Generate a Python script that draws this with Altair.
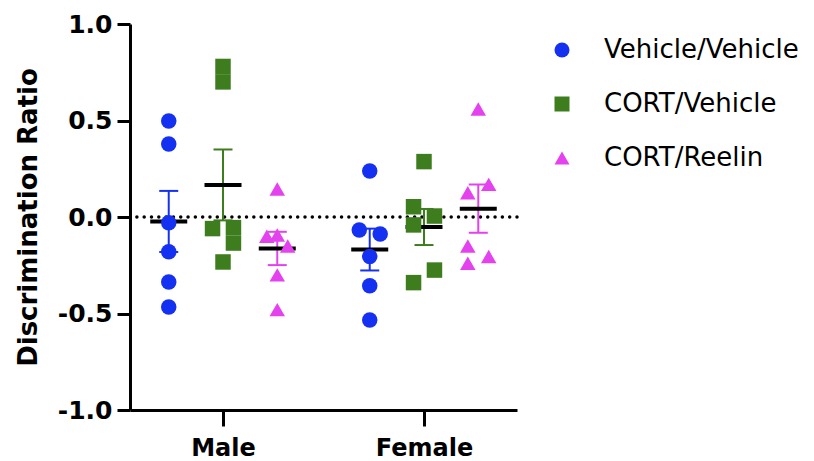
import altair as alt
import pandas as pd

groups = ["Male", "Female"]
series = ["Vehicle/Vehicle", "CORT/Vehicle", "CORT/Reelin"]
colors = ["#1431f2", "#3e7d1e", "#e542ef"]
shapes = ["circle", "square", "triangle-up"]

# values (6 animals per group)
male_vv = [0.497, 0.378, -0.03, -0.18, -0.337, -0.466]
male_cv = [0.78, 0.70, -0.06, -0.055, -0.135, -0.233]
male_cr = [0.145, -0.10, -0.093, -0.15, -0.30, -0.48]
female_vv = [0.238, -0.067, -0.088, -0.205, -0.356, -0.534]
female_cv = [0.287, 0.053, 0.005, -0.041, -0.275, -0.34]
female_cr = [0.56, 0.169, 0.126, -0.15, -0.205, -0.24]

# scatter lane of each dot within its column (-1 left, 0 centre, 1 right)
male_vv_lane = [0, 0, 0, 0, 0, 0]
male_cv_lane = [0, 0, -1, 1, 1, 0]
male_cr_lane = [0, -1, 0, 1, 0, 0]
female_vv_lane = [0, -1, 1, 0, 0, 0]
female_cv_lane = [0, -1, 1, -1, 1, -1]
female_cr_lane = [0, 1, -1, -1, 1, -1]

values = {
    ("Male", "Vehicle/Vehicle"): (male_vv, male_vv_lane),
    ("Male", "CORT/Vehicle"): (male_cv, male_cv_lane),
    ("Male", "CORT/Reelin"): (male_cr, male_cr_lane),
    ("Female", "Vehicle/Vehicle"): (female_vv, female_vv_lane),
    ("Female", "CORT/Vehicle"): (female_cv, female_cv_lane),
    ("Female", "CORT/Reelin"): (female_cr, female_cr_lane),
}

rows = []
for gi, g in enumerate(groups):
    for si, s in enumerate(series):
        vals, lanes = values[(g, s)]
        for v, ln in zip(vals, lanes):
            rows.append({"group": g, "gi": gi, "series": s, "si": si - 1, "lane": ln, "value": v})
df = pd.DataFrame(rows)

xscale = alt.Scale(domain=[-0.4627, 1.4627], nice=False, zero=False)
yscale = alt.Scale(domain=[-1, 1], nice=False, zero=False)
cscale = alt.Scale(domain=series, range=colors)
sscale = alt.Scale(domain=series, range=shapes)

x_axis = alt.Axis(
    title=None,
    values=[0, 1],
    labelExpr="datum.value == 0 ? 'Male' : 'Female'",
    tickSize=16,
    labelFontSize=24,
    labelPadding=10,
)
y_axis = alt.Axis(
    title="Discrimination Ratio",
    values=[-1, -0.5, 0, 0.5, 1],
    labelExpr="replace(format(datum.value, '.1f'), '\u2212', '-')",
    tickSize=13,
    labelFontSize=25,
    labelPadding=5,
    titleFontSize=26,
    titleFont="DejaVu Sans",
    titleFontWeight="bold",
    titleColor="black",
    titlePadding=16,
)
legend = alt.Legend(title=None)


def X(f):
    return alt.X(f, scale=xscale, axis=x_axis, title=None)


def Y(f):
    return alt.Y(f, scale=yscale, axis=y_axis, title="Discrimination Ratio")


color = alt.Color("series:N", scale=cscale, legend=legend, title=None)

base = alt.Chart(df).transform_calculate(
    xc="datum.gi + datum.si * 0.27",
    xp="datum.gi + datum.si * 0.27 + datum.lane * 0.052",
)

stats = base.transform_aggregate(
    mean="mean(value)", sd="stdev(value)", n="count()", groupby=["group", "series", "xc"]
).transform_calculate(
    lo="datum.mean - datum.sd / sqrt(datum.n)",
    hi="datum.mean + datum.sd / sqrt(datum.n)",
)

zero = alt.Chart(pd.DataFrame({"z": [0]})).mark_rule(
    color="black", strokeWidth=3.5, strokeDash=[0.01, 7.3], strokeCap="round"
).encode(y=Y("z:Q"))

err = stats.mark_rule(strokeWidth=2, opacity=1).encode(
    x=X("xc:Q"), y=Y("lo:Q"), y2="hi:Q", color=color
)
cap_hi = stats.mark_tick(orient="horizontal", size=19, thickness=2, opacity=1).encode(
    x=X("xc:Q"), y=Y("hi:Q"), color=color
)
cap_lo = stats.mark_tick(orient="horizontal", size=19, thickness=2, opacity=1).encode(
    x=X("xc:Q"), y=Y("lo:Q"), color=color
)
means = stats.mark_tick(orient="horizontal", size=37, thickness=4, color="black", opacity=1).encode(
    x=X("xc:Q"), y=Y("mean:Q")
)

points = base.mark_point(filled=True, size=240, opacity=1, strokeWidth=0).encode(
    x=X("xp:Q"),
    y=Y("value:Q"),
    color=color,
    shape=alt.Shape("series:N", scale=sscale, legend=legend, title=None),
)

chart = alt.layer(zero, err, cap_hi, cap_lo, means, points).properties(
    width=387,
    height=386,
    autosize=alt.AutoSizeParams(type="none"),
    padding={"left": 130, "top": 24, "right": 297, "bottom": 51},
).configure_view(stroke=None).configure_axis(
    domainColor="black",
    domainWidth=3,
    tickColor="black",
    tickWidth=3,
    labelFont="DejaVu Sans",
    labelFontWeight="bold",
    labelColor="black",
    grid=False,
).configure_legend(
    orient="none",
    legendX=419,
    legendY=13,
    padding=0,
    labelFont="DejaVu Sans",
    labelFontSize=26,
    labelColor="black",
    labelLimit=0,
    symbolSize=225,
    symbolStrokeWidth=0,
    symbolOpacity=1,
    labelOffset=29,
    rowPadding=28,
)

chart.save("out.html", embed_options={"renderer": "svg", "actions": False})
